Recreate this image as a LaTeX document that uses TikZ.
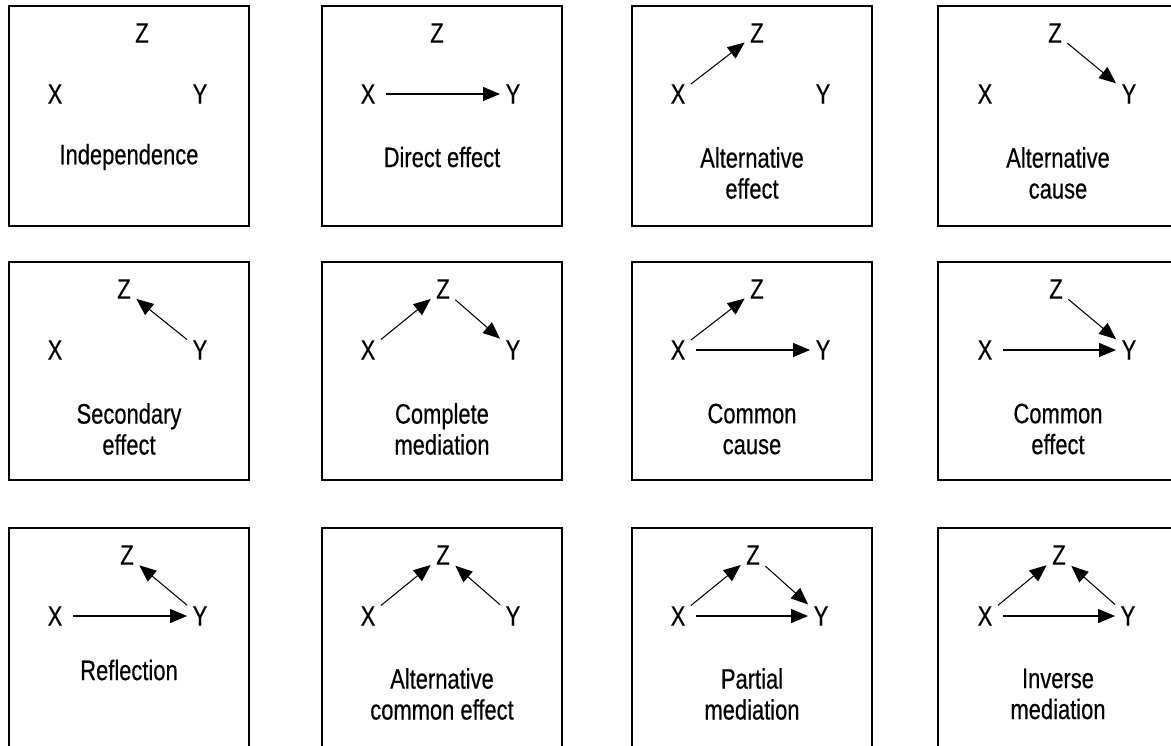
\documentclass[tikz,border=0pt]{standalone}
\usepackage{fontspec}
\setmainfont[FakeStretch=0.78, FakeBold=0.4]{Liberation Sans}
\usetikzlibrary{arrows.meta}

\tikzset{
  panel/.style={black, line width=1.2pt},
  var/.style={inner sep=3pt, font=\fontsize{16}{17.6}\selectfont},
  caption/.style={align=center, font=\fontsize{16}{17.6}\selectfont},
  effect/.style={-{Triangle[length=0.34cm,width=0.28cm]}, line width=0.6pt},
  direct/.style={effect, shorten <=3pt},
}

\begin{document}
\begin{tikzpicture}[x=0.02cm, y=-0.02cm]
  \clip (0,0) rectangle (1171,745);
  \fill[white] (0,0) rectangle (1171,745);

  % first row
  \begin{scope}[shift={(9,6)}, name prefix=ind-]
    \draw[panel] (0,0) rectangle (240,220);
    \node[var] (z) at (133,27) {Z};
    \node[var] (x) at (46,88) {X};
    \node[var] (y) at (191,88) {Y};
    \node[caption] (lab) at (120,151) {Independence};
  \end{scope}

  \begin{scope}[shift={(322,6)}, name prefix=dir-]
    \draw[panel] (0,0) rectangle (240,220);
    \node[var] (z) at (115,27) {Z};
    \node[var] (x) at (46,88) {X};
    \node[var] (y) at (191,88) {Y};
    \node[caption] (lab) at (120,151) {Direct effect};
    \draw[direct] (x) -- (y);
  \end{scope}

  \begin{scope}[shift={(632,6)}, name prefix=alte-]
    \draw[panel] (0,0) rectangle (240,220);
    \node[var] (z) at (125,27) {Z};
    \node[var] (x) at (46,88) {X};
    \node[var] (y) at (191,88) {Y};
    \node[caption] (lab) at (120,167) {Alternative\\effect};
    \draw[effect] (x) -- (z);
  \end{scope}

  \begin{scope}[shift={(938,6)}, name prefix=altc-]
    \draw[panel] (0,0) rectangle (240,220);
    \node[var] (z) at (117,27) {Z};
    \node[var] (x) at (47,88) {X};
    \node[var] (y) at (191,88) {Y};
    \node[caption] (lab) at (120,167) {Alternative\\cause};
    \draw[effect] (z) -- (y);
  \end{scope}

  % second row
  \begin{scope}[shift={(9,262)}, name prefix=sec-]
    \draw[panel] (0,0) rectangle (240,218);
    \node[var] (z) at (115,27) {Z};
    \node[var] (x) at (46,88) {X};
    \node[var] (y) at (191,88) {Y};
    \node[caption] (lab) at (120,167) {Secondary\\effect};
    \draw[effect] (y) -- (z);
  \end{scope}

  \begin{scope}[shift={(322,262)}, name prefix=cmed-]
    \draw[panel] (0,0) rectangle (240,218);
    \node[var] (z) at (121,27) {Z};
    \node[var] (x) at (46,88) {X};
    \node[var] (y) at (191,88) {Y};
    \node[caption] (lab) at (120,167) {Complete\\mediation};
    \draw[effect] (x) -- (z);
    \draw[effect] (z) -- (y);
  \end{scope}

  \begin{scope}[shift={(632,262)}, name prefix=ccau-]
    \draw[panel] (0,0) rectangle (240,218);
    \node[var] (z) at (125,27) {Z};
    \node[var] (x) at (46,88) {X};
    \node[var] (y) at (191,88) {Y};
    \node[caption] (lab) at (120,167) {Common\\cause};
    \draw[effect] (x) -- (z);
    \draw[direct] (x) -- (y);
  \end{scope}

  \begin{scope}[shift={(938,262)}, name prefix=ceff-]
    \draw[panel] (0,0) rectangle (240,218);
    \node[var] (z) at (118,27) {Z};
    \node[var] (x) at (47,88) {X};
    \node[var] (y) at (191,88) {Y};
    \node[caption] (lab) at (120,167) {Common\\effect};
    \draw[effect] (z) -- (y);
    \draw[direct] (x) -- (y);
  \end{scope}

  % third row
  \begin{scope}[shift={(9,528)}, name prefix=ref-]
    \draw[panel] (0,0) rectangle (240,220);
    \node[var] (z) at (118,27) {Z};
    \node[var] (x) at (46,88) {X};
    \node[var] (y) at (191,88) {Y};
    \node[caption] (lab) at (120,142) {Reflection};
    \draw[direct] (x) -- (y);
    \draw[effect] (y) -- (z);
  \end{scope}

  \begin{scope}[shift={(322,528)}, name prefix=acom-]
    \draw[panel] (0,0) rectangle (240,220);
    \node[var] (z) at (121,27) {Z};
    \node[var] (x) at (46,88) {X};
    \node[var] (y) at (191,88) {Y};
    \node[caption] (lab) at (120,166) {Alternative\\common effect};
    \draw[effect] (x) -- (z);
    \draw[effect] (y) -- (z);
  \end{scope}

  \begin{scope}[shift={(632,528)}, name prefix=pmed-]
    \draw[panel] (0,0) rectangle (240,220);
    \node[var] (z) at (121,27) {Z};
    \node[var] (x) at (46,88) {X};
    \node[var] (y) at (189,88) {Y};
    \node[caption] (lab) at (120,166) {Partial\\mediation};
    \draw[effect] (x) -- (z);
    \draw[effect] (z) -- (y);
    \draw[direct] (x) -- (y);
  \end{scope}

  \begin{scope}[shift={(938,528)}, name prefix=imed-]
    \draw[panel] (0,0) rectangle (240,220);
    \node[var] (z) at (121,27) {Z};
    \node[var] (x) at (47,88) {X};
    \node[var] (y) at (190,88) {Y};
    \node[caption] (lab) at (120,166) {Inverse\\mediation};
    \draw[effect] (x) -- (z);
    \draw[effect] (y) -- (z);
    \draw[direct] (x) -- (y);
  \end{scope}
\end{tikzpicture}
\end{document}
